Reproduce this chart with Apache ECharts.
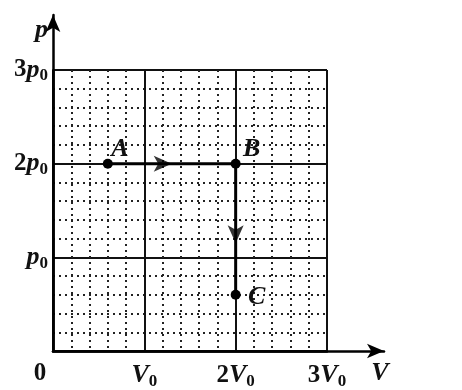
<!DOCTYPE html>
<html>
<head>
<meta charset="utf-8">
<script src="https://cdn.jsdelivr.net/npm/echarts@6/dist/echarts.min.js"></script>
<style>
  html, body { margin: 0; padding: 0; background: #fff; }
  #chart { width: 462px; height: 390px; }
</style>
</head>
<body>
<div id="chart"></div>
<script>
// p-V diagram data (units of V0 and p0)
const statePoints = [[0.6, 2], [2, 2], [2, 0.6]];
const stateNames = ['A', 'B', 'C'];
const arrowPoints = [[1.3, 2], [2, 1.15]];
const xTickLabels = ['0', 'V', '2V', '3V'];
const yTickLabels = ['', 'p', '2p', '3p'];

const FONT = '"Liberation Serif", "DejaVu Serif", serif';
const rich = {
  n: { fontFamily: FONT, fontSize: 25, fontWeight: 'bold', color: '#111' },
  i: { fontFamily: FONT, fontSize: 26, fontStyle: 'italic', fontWeight: 'bold', color: '#111' },
  s: { fontFamily: FONT, fontSize: 17, fontWeight: 'bold', color: '#111', padding: [12, 0, 0, 0] }
};

// split "2V" into number + italic letter + subscript 0
function tickText(str) {
  if (str === '') return '';
  if (str === '0') return '{z|0}';
  const m = str.match(/^(\d*)([A-Za-z])$/);
  return (m[1] ? '{n|' + m[1] + '}' : '') + '{i|' + m[2] + '}{s|0}';
}

const chart = echarts.init(document.getElementById('chart'));

const labelOffsets = [[12, -14], [16, -14], [21, 2]];

chart.setOption({
  animation: false,
  grid: [
    { left: 53, right: 135, top: 70, bottom: 39 },
    { left: 53, right: 78, top: 15, bottom: 39 }
  ],
  xAxis: [
    {
      type: 'value', gridIndex: 0, min: 0, max: 3, interval: 1,
      axisLine: { show: true, lineStyle: { color: '#000', width: 2.5 } },
      axisTick: { show: false },
      minorTick: { show: false, splitNumber: 5 },
      splitLine: { show: true, lineStyle: { color: '#111', width: 2 } },
      minorSplitLine: { show: true, lineStyle: { color: '#222', width: 2, type: [2, 4] } },
      axisLabel: {
        margin: 10,
        formatter: (v) => tickText(xTickLabels[Math.round(v)]),
        rich: Object.assign({ z: { fontFamily: FONT, fontSize: 25, fontWeight: 'bold', color: '#111', padding: [0, 26, 0, 0] } }, rich)
      }
    },
    {
      type: 'value', gridIndex: 1, min: 0, max: 1,
      axisLine: { show: true, symbol: ['none', 'arrow'], symbolSize: [11, 17],
        lineStyle: { color: '#000', width: 2.5 } },
      axisTick: { show: false }, axisLabel: { show: false }, splitLine: { show: false },
      name: '{i|V}', nameLocation: 'end', nameGap: -4,
      nameTextStyle: { align: 'center', verticalAlign: 'top', padding: [9, 0, 0, 0], rich: rich }
    }
  ],
  yAxis: [
    {
      type: 'value', gridIndex: 0, min: 0, max: 3, interval: 1,
      axisLine: { show: true, lineStyle: { color: '#000', width: 2.5 } },
      axisTick: { show: false },
      minorTick: { show: false, splitNumber: 5 },
      splitLine: { show: true, lineStyle: { color: '#111', width: 2 } },
      minorSplitLine: { show: true, lineStyle: { color: '#222', width: 2, type: [2, 4] } },
      axisLabel: {
        margin: 5,
        formatter: (v) => tickText(yTickLabels[Math.round(v)]),
        rich: rich
      }
    },
    {
      type: 'value', gridIndex: 1, min: 0, max: 1,
      axisLine: { show: true, symbol: ['none', 'arrow'], symbolSize: [11, 17],
        lineStyle: { color: '#000', width: 2.5 } },
      axisTick: { show: false }, axisLabel: { show: false }, splitLine: { show: false },
      name: '{i|p}', nameLocation: 'end', nameGap: -2,
      nameTextStyle: { align: 'right', verticalAlign: 'top', padding: [0, 5, 0, 0], rich: rich }
    }
  ],
  series: [
    {
      type: 'line', xAxisIndex: 0, yAxisIndex: 0,
      data: statePoints.map((p, k) => ({
        value: p,
        label: {
          show: true, formatter: '{i|' + stateNames[k] + '}', rich: rich,
          position: 'inside', offset: labelOffsets[k]
        }
      })),
      symbol: 'circle', symbolSize: 10,
      itemStyle: { color: '#000' },
      lineStyle: { color: '#000', width: 3 },
      z: 5
    },
    {
      type: 'scatter', xAxisIndex: 0, yAxisIndex: 0,
      data: arrowPoints,
      symbol: 'arrow', symbolSize: [12, 18],
      symbolRotate: (v, p) => (p.dataIndex === 0 ? -90 : 180),
      itemStyle: { color: '#000' },
      z: 6
    }
  ]
});
</script>
</body>
</html>
